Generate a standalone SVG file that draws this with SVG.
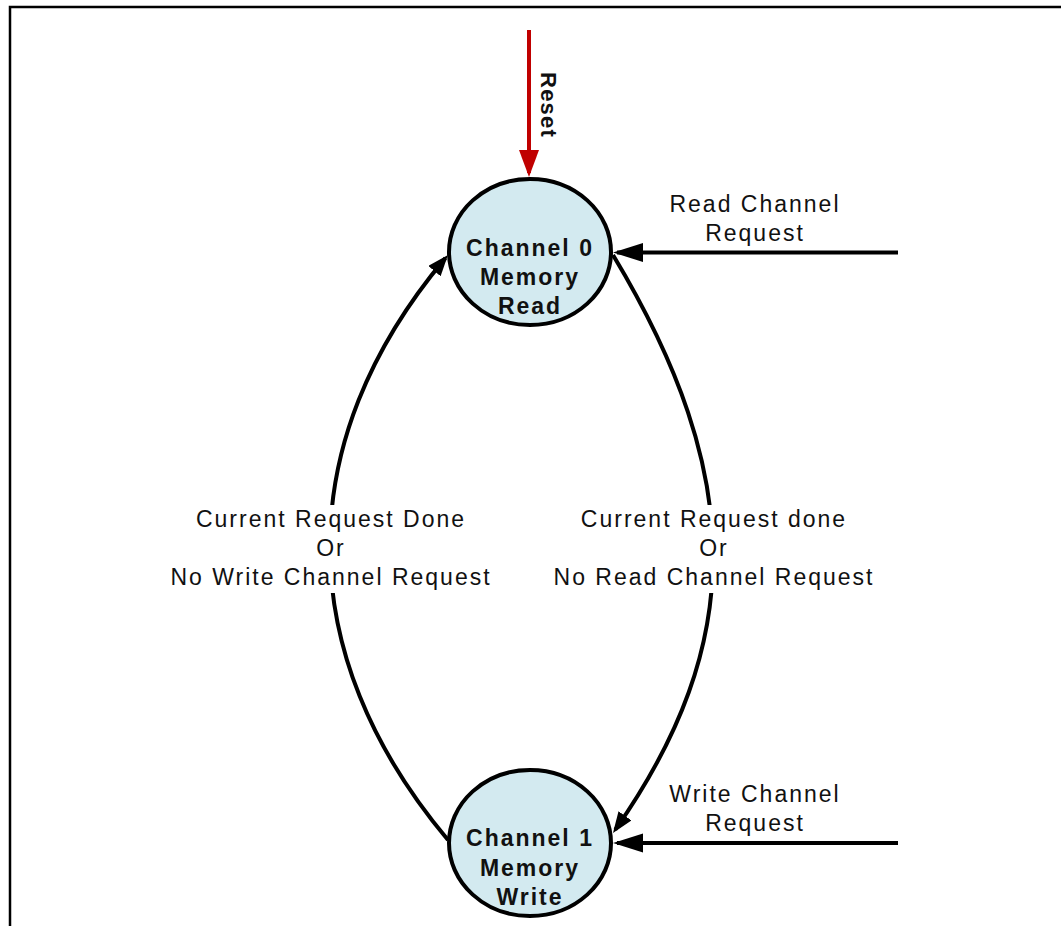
<svg xmlns="http://www.w3.org/2000/svg" width="1061" height="926" viewBox="0 0 1061 926">
  <style>
    .node { fill: #D3EAF0; stroke: #000; stroke-width: 4; }
    .nlabel { font-family: "Liberation Sans", Arial, sans-serif; font-weight: bold; font-size: 23px; letter-spacing: 2px; fill: #111; text-anchor: middle; }
    .elabel { font-family: "Liberation Sans", Arial, sans-serif; font-size: 23px; letter-spacing: 2px; fill: #111; text-anchor: middle; }
    .reset { font-family: "Liberation Sans", Arial, sans-serif; font-weight: bold; font-size: 22px; letter-spacing: 1.2px; fill: #111; text-anchor: middle; }
    .edge { fill: none; stroke: #000; stroke-width: 4; }
    .edge-red { fill: none; stroke: #C00000; stroke-width: 4; }
    .bg { fill: #fff; }
  </style>
  <defs>
    <marker id="bigArrow" markerUnits="userSpaceOnUse" markerWidth="32" markerHeight="20" refX="26" refY="9.5" orient="auto">
      <path d="M0,0 L30,9.5 L0,19 Z" fill="#000"/>
    </marker>
    <marker id="redArrow" markerUnits="userSpaceOnUse" markerWidth="28" markerHeight="20" refX="23" refY="10" orient="auto">
      <path d="M0,0 L27,10 L0,20 Z" fill="#C00000"/>
    </marker>
    <marker id="arcArrow" markerUnits="userSpaceOnUse" markerWidth="22" markerHeight="16" refX="17" refY="8" orient="auto">
      <path d="M0,0 L21,8 L0,16 Z" fill="#000"/>
    </marker>
  </defs>

  <g id="frame">
    <path d="M10,926 V7 H1061" fill="none" stroke="#000" stroke-width="2.5"/>
  </g>

  <g id="connectors">
    <path id="e-reset" class="edge-red" d="M529,30 V173" marker-end="url(#redArrow)"/>
    <path id="e-readreq" class="edge" d="M898,252.5 H617" marker-end="url(#bigArrow)"/>
    <path id="e-writereq" class="edge" d="M898,843 H617" marker-end="url(#bigArrow)"/>
    <path id="e-1to0" class="edge" d="M448,840 C291,653 291,442 445.4,258.1" marker-end="url(#arcArrow)"/>
    <path id="e-0to1" class="edge" d="M613,255 C746,476 746,643 615.3,829.7" marker-end="url(#arcArrow)"/>
  </g>

  <g id="node-ch0">
    <ellipse class="node" cx="530" cy="252" rx="81" ry="73"/>
    <text class="nlabel" x="530" y="256">Channel 0</text>
    <text class="nlabel" x="530" y="285">Memory</text>
    <text class="nlabel" x="530" y="314">Read</text>
  </g>

  <g id="node-ch1">
    <ellipse class="node" cx="530" cy="843" rx="81" ry="73"/>
    <text class="nlabel" x="530" y="846">Channel 1</text>
    <text class="nlabel" x="530" y="875.5">Memory</text>
    <text class="nlabel" x="530" y="905">Write</text>
  </g>

  <g id="labels">
    <text class="reset" transform="translate(541,105) rotate(90)">Reset</text>
    <text class="elabel" x="755" y="212">Read Channel</text>
    <text class="elabel" x="755" y="241">Request</text>
    <text class="elabel" x="755" y="802">Write Channel</text>
    <text class="elabel" x="755" y="831">Request</text>
    <g id="label-left">
      <rect class="bg" x="167" y="505" width="328" height="88"/>
      <text class="elabel" x="331" y="527">Current Request Done</text>
      <text class="elabel" x="331" y="556">Or</text>
      <text class="elabel" x="331" y="585">No Write Channel Request</text>
    </g>
    <g id="label-right">
      <rect class="bg" x="550" y="505" width="328" height="88"/>
      <text class="elabel" x="714" y="527">Current Request done</text>
      <text class="elabel" x="714" y="556">Or</text>
      <text class="elabel" x="714" y="585">No Read Channel Request</text>
    </g>
  </g>
</svg>
